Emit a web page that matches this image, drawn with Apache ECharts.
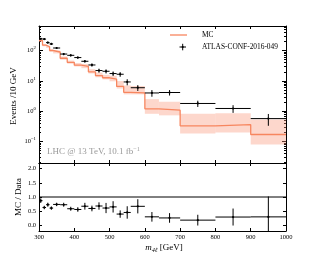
<!DOCTYPE html>
<html>
<head>
<meta charset="utf-8">
<script src="https://cdn.jsdelivr.net/npm/echarts@6/dist/echarts.min.js"></script>
<style>html,body{margin:0;padding:0;background:#fff;}#c{width:318px;height:265px;}</style>
</head>
<body>
<div id="c"></div>
<script>
// ---- data ----
const binEdges = [300,310,320,330,340,360,380,400,420,440,460,480,500,520,540,560,600,640,700,800,900,1000];
const dataVals = [246,240,184,166,122,77,70,59,44.5,33.6,22,20.8,17.5,16.6,9.25,5.96,4.0,4.14,1.80,1.23,0.57];
const dataErr  = [16,16,14,13,8,6,6,5,4.5,4,3.3,3.2,3,2.9,2.1,1.3,1.0,0.85,0.42,0.35,0.24];
const mcVals   = [214,151,134,101,90,56,41,33,30,20,15,12.7,11.4,6.6,4.2,4.0,1.2,1.08,0.33,0.36,0.17];
const mcLo     = [197,139,123,93,81,50,37,30,26.4,17.6,13.2,11.2,9.7,5.6,3.6,3.6,0.82,0.73,0.185,0.2,0.08];
const mcHi     = [235,166,147,111,101,64,47,39,36,24.4,18.8,15.9,14.8,9.9,7.1,6.8,2.5,2.05,0.83,0.86,0.53];
const ratioErr = [0.08,0.06,0.07,0.06,0.06,0.07,0.07,0.08,0.12,0.1,0.13,0.18,0.2,0.13,0.22,0.25,0.17,0.17,0.19,0.3,0.72];
const xTicks = [300,400,500,600,700,800,900,1000];
const logMajor = [-1,0,1,2];
const ratioTicks = [0,0.5,1.0,1.5,2.0];
const yMin = 0.0195, yMax = 650;
const rMin = -0.2, rMax = 2.2;

const FONT = 'Liberation Serif';
const LMIN = Math.log10(yMin), LMAX = Math.log10(yMax);
const logMinor = [];
for (let n = -2; n <= 2; n++) for (let k = 2; k <= 9; k++) {
  const v = k * Math.pow(10, n);
  if (v >= yMin && v <= yMax) logMinor.push(Math.log10(v));
}

const mcLine = binEdges.slice(0, -1).map((e, i) => [e, mcVals[i]]);
mcLine.push([binEdges[binEdges.length - 1], mcVals[mcVals.length - 1]]);
const bandData = mcVals.map((v, i) => [binEdges[i], binEdges[i + 1], mcLo[i], mcHi[i]]);
const dataPts = dataVals.map((v, i) => [binEdges[i], binEdges[i + 1], v, dataErr[i]]);
const ratioPts = dataVals.map((v, i) => [binEdges[i], binEdges[i + 1], mcVals[i] / v, ratioErr[i]]);

function bandRender(params, api) {
  const p1 = api.coord([api.value(0), api.value(3)]);
  const p2 = api.coord([api.value(1), api.value(2)]);
  return {type: 'rect', shape: {x: p1[0], y: p1[1], width: p2[0] - p1[0], height: p2[1] - p1[1]},
          style: {fill: 'rgba(250,150,120,0.38)'}};
}
function errRender(params, api) {
  const x0 = api.value(0), x1 = api.value(1), y = api.value(2), e = api.value(3);
  const xc = (x0 + x1) / 2;
  const pL = api.coord([x0, y]), pR = api.coord([x1, y]);
  const pT = api.coord([xc, y + e]), pB = api.coord([xc, y - e]);
  const pC = api.coord([xc, y]);
  const st = {stroke: '#000', lineWidth: 1};
  return {type: 'group', children: [
    {type: 'line', shape: {x1: pL[0], y1: pL[1], x2: pR[0], y2: pR[1]}, style: st},
    {type: 'line', shape: {x1: pT[0], y1: pT[1], x2: pB[0], y2: pB[1]}, style: st},
    {type: 'circle', shape: {cx: pC[0], cy: pC[1], r: 1.1}, style: {fill: '#000'}}
  ]};
}

const axLine = {show: true, onZero: false, lineStyle: {color: '#000', width: 1}};
function xAx(grid, pos, labels) {
  return {type: 'value', gridIndex: grid, position: pos, min: 300, max: 1000, interval: 100,
    axisLine: axLine, splitLine: {show: false},
    axisTick: {show: true, inside: true, length: 3, lineStyle: {color: '#000', width: 1}},
    axisLabel: {show: labels, margin: 3, fontSize: 6.5, fontFamily: FONT, color: '#000', formatter: v => String(v)}};
}
function tickAx(grid, pos, min, max, ticks, len, line, label) {
  return {type: 'value', gridIndex: grid, position: pos, min: min, max: max,
    axisLine: line ? axLine : {show: false, onZero: false}, splitLine: {show: false},
    axisTick: {show: true, inside: true, length: len, customValues: ticks, lineStyle: {color: '#000', width: 1}},
    axisLabel: label || {show: false}};
}
const supMinus = n => (n < 0 ? '\u2212' + (-n) : '' + n);

const option = {
  animation: false,
  backgroundColor: '#fff',
  grid: [
    {left: 39, right: 32, top: 26, height: 137},
    {left: 39, right: 32, top: 163, height: 68}
  ],
  xAxis: [xAx(0, 'bottom', false), xAx(0, 'top', false), xAx(1, 'bottom', true), xAx(1, 'top', false)],
  yAxis: [
    {type: 'log', gridIndex: 0, min: yMin, max: yMax, show: false, axisLine: {onZero: false}},
    tickAx(0, 'left', LMIN, LMAX, logMajor, 4, true, {show: true, customValues: logMajor, margin: 3,
      fontFamily: FONT, color: '#000',
      formatter: v => '{b|10}{s|' + supMinus(Math.round(v)) + '}',
      rich: {b: {fontSize: 6.5, fontFamily: FONT, lineHeight: 8},
             s: {fontSize: 4.8, fontFamily: FONT, lineHeight: 6, padding: [0, 0, 5, 0]}}}),
    tickAx(0, 'left', LMIN, LMAX, logMinor, 2, false),
    tickAx(0, 'right', LMIN, LMAX, logMajor, 4, true),
    tickAx(0, 'right', LMIN, LMAX, logMinor, 2, false),
    tickAx(1, 'left', rMin, rMax, ratioTicks, 3, true, {show: true, customValues: ratioTicks, margin: 3,
      fontSize: 6.5, fontFamily: FONT, color: '#000', formatter: v => v.toFixed(1)}),
    tickAx(1, 'right', rMin, rMax, ratioTicks, 3, true)
  ],
  series: [
    {type: 'custom', name: 'MC band', xAxisIndex: 0, yAxisIndex: 0, renderItem: bandRender, data: bandData,
     encode: {x: [0, 1], y: [2, 3]}, clip: true, z: 1, silent: true},
    {type: 'line', name: 'MC', xAxisIndex: 0, yAxisIndex: 0, data: mcLine, step: 'end', symbol: 'none',
     lineStyle: {color: '#f7865f', width: 1.3}, z: 2, silent: true},
    {type: 'custom', name: 'ATLAS-CONF-2016-049', xAxisIndex: 0, yAxisIndex: 0, renderItem: errRender, data: dataPts,
     encode: {x: [0, 1], y: [2]}, clip: true, z: 3, silent: true},
    {type: 'line', name: 'one', xAxisIndex: 2, yAxisIndex: 5, data: [[300, 1], [1000, 1]], symbol: 'none',
     lineStyle: {color: '#000', width: 1}, z: 2, silent: true},
    {type: 'custom', name: 'ratio', xAxisIndex: 2, yAxisIndex: 5, renderItem: errRender, data: ratioPts,
     encode: {x: [0, 1], y: [2]}, clip: true, z: 3, silent: true}
  ],
  graphic: [
    {type: 'text', x: 13.5, y: 96, rotation: Math.PI / 2,
     style: {text: 'Events /10 GeV', fontSize: 9, fontFamily: FONT, fill: '#000', align: 'center', verticalAlign: 'middle'}},
    {type: 'text', x: 19, y: 197, rotation: Math.PI / 2,
     style: {text: 'MC / Data', fontSize: 9, fontFamily: FONT, fill: '#000', align: 'center', verticalAlign: 'middle'}},
    {type: 'text', x: 164, y: 248,
     style: {text: '{i|m}{sub|4\u2113}{b| [GeV]}', align: 'center', verticalAlign: 'middle', fill: '#000',
       rich: {i: {fontSize: 9, fontFamily: FONT, fontStyle: 'italic', lineHeight: 11},
              sub: {fontSize: 6.3, fontFamily: FONT, fontStyle: 'italic', lineHeight: 7, padding: [4, 0, 0, 0]},
              b: {fontSize: 9, fontFamily: FONT, lineHeight: 11}}}},
    {type: 'text', x: 47, y: 152,
     style: {text: '{b|LHC @ 13 TeV, 10.1 fb}{s|\u22121}', align: 'left', verticalAlign: 'middle', fill: '#999',
       rich: {b: {fontSize: 9, fontFamily: FONT, fill: '#999', lineHeight: 11},
              s: {fontSize: 6.3, fontFamily: FONT, fill: '#999', lineHeight: 7, padding: [0, 0, 5, 0]}}}},
    {type: 'line', shape: {x1: 170, y1: 35, x2: 187, y2: 35}, style: {stroke: '#f7865f', lineWidth: 1.3}, z: 10},
    {type: 'text', x: 202, y: 35, style: {text: 'MC', fontSize: 7.4, fontFamily: FONT, fill: '#000', align: 'left', verticalAlign: 'middle'}, z: 10},
    {type: 'line', shape: {x1: 179.5, y1: 47, x2: 186, y2: 47}, style: {stroke: '#000', lineWidth: 1}, z: 10},
    {type: 'line', shape: {x1: 182.7, y1: 43.8, x2: 182.7, y2: 50.3}, style: {stroke: '#000', lineWidth: 1}, z: 10},
    {type: 'circle', shape: {cx: 182.7, cy: 47, r: 1.1}, style: {fill: '#000'}, z: 10},
    {type: 'text', x: 202, y: 47, style: {text: 'ATLAS-CONF-2016-049', fontSize: 7.4, fontFamily: FONT, fill: '#000', align: 'left', verticalAlign: 'middle'}, z: 10}
  ]
};
const chart = echarts.init(document.getElementById('c'), null, {renderer: 'canvas'});
chart.setOption(option);
</script>
</body>
</html>
